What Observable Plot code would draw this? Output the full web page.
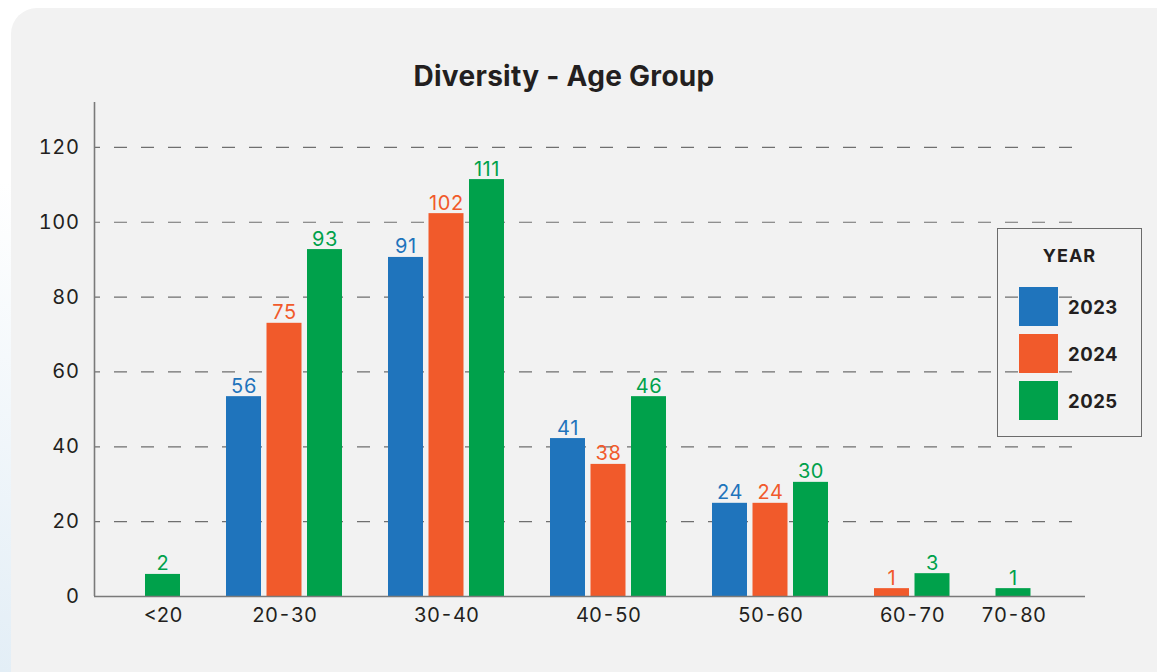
<!DOCTYPE html>
<html>
<head>
<meta charset="utf-8">
<script src="https://cdn.jsdelivr.net/npm/d3@7"></script>
<script src="https://cdn.jsdelivr.net/npm/@observablehq/plot@0.6"></script>
<style>
  html, body { margin: 0; padding: 0; }
  body {
    width: 1157px; height: 672px; overflow: hidden; position: relative;
    background: linear-gradient(200deg, #ffffff 55%, #e3eef6 100%);
    font-family: Inter, "Open Sans", sans-serif; color: #231f20;
  }
  #panel {
    position: absolute; left: 11px; top: 8px; width: 1180px; height: 700px;
    background: #f2f2f2; border-radius: 26px;
  }
  #chart { position: absolute; left: 0; top: 0; }
  #chart svg text { letter-spacing: 0.6px; }
  #chart svg g[aria-label="x-axis tick label"] text { letter-spacing: 0px; }
  #title {
    position: absolute; left: 0; top: 61px; width: 1128px; text-align: center;
    font-size: 28px; line-height: 30px; font-weight: 700; color: #231f20; letter-spacing: 0.3px;
  }
  #legend {
    position: absolute; left: 997px; top: 228px; width: 143px; height: 207px;
    border: 1.5px solid #6b6b6b; box-sizing: content-box;
  }
  #legend .head {
    position: absolute; left: 0; width: 100%; top: 17px; text-align: center;
    font-size: 18px; font-weight: 700; line-height: 20px; letter-spacing: 1px;
  }
  #legend .item { position: absolute; left: 21px; height: 39px; display: flex; align-items: center; }
  #legend .sw { width: 39px; height: 39px; }
  #legend .lab { margin-left: 10px; font-size: 18.5px; font-weight: 700; letter-spacing: 0.5px; }
</style>
</head>
<body>
<div id="panel"></div>
<div id="chart"></div>
<div id="title">Diversity - Age Group</div>
<div id="legend"></div>
<script>
// ---- data ----
const categories = ["<20", "20-30", "30-40", "40-50", "50-60", "60-70", "70-80"];
const years = ["2023", "2024", "2025"];
const colors = ["#1f74bc", "#f15a2b", "#00a14b"];
// bar heights as drawn
const values2023 = [0, 53.4, 90.6, 42.2, 24.9, 0, 0];
const values2024 = [0, 73, 102.3, 35.3, 24.9, 2.1, 0];
const values2025 = [5.9, 92.7, 111.4, 53.4, 30.5, 6.1, 2.1];
// value labels as printed
const labels2023 = [null, "56", "91", "41", "24", null, null];
const labels2024 = [null, "75", "102", "38", "24", "1", null];
const labels2025 = ["2", "93", "111", "46", "30", "3", "1"];
const yTicks = [0, 20, 40, 60, 80, 100, 120];

// ---- build table: one slot per present bar, one empty slot between groups ----
const seriesValues = [values2023, values2024, values2025];
const seriesLabels = [labels2023, labels2024, labels2025];
const rows = [];
const groupCenters = [];
let slot = 0;
const barW = 0.864;
categories.forEach((cat, i) => {
  const first = slot;
  years.forEach((yr, j) => {
    const v = seriesValues[j][i];
    if (v > 0) {
      rows.push({cat, year: yr, value: v, label: seriesLabels[j][i], slot});
      slot += 1;
    }
  });
  groupCenters.push({cat, center: (first + slot - 1 + barW) / 2});
  slot += 1;
});

const xMin = -51 / 40.5, xMax = 940 / 40.5;

const chart = Plot.plot({
  width: 1157,
  height: 672,
  marginLeft: 94,
  marginRight: 72,
  marginTop: 102,
  marginBottom: 76,
  style: {background: "transparent", fontFamily: "Inter, 'Open Sans', sans-serif", fontSize: "20px", color: "#231f20"},
  x: {domain: [xMin, xMax], axis: null},
  y: {domain: [0, 132], axis: null},
  color: {domain: years, range: colors},
  marks: [
    Plot.gridY(yTicks.filter(t => t > 0), {stroke: "#6f6f6f", strokeOpacity: 1, strokeWidth: 1.2, strokeDasharray: "13,14", strokeDashoffset: 7}),
    Plot.rect(rows, {x1: "slot", x2: d => d.slot + barW, y1: 0, y2: "value", fill: "year"}),
    Plot.text(rows, {x: d => d.slot + barW / 2, y: "value", text: "label", fill: "year", lineAnchor: "bottom", dy: -4, fontSize: 20}),
    Plot.ruleY([0], {stroke: "#7a7a7a", strokeWidth: 1.6}),
    Plot.ruleX([xMin], {y1: 0, y2: 132, stroke: "#7a7a7a", strokeWidth: 1.6}),
    Plot.axisY({ticks: yTicks, tickSize: 0, tickPadding: 15, label: null, fontSize: 20}),
    Plot.axisX({ticks: groupCenters.map(g => g.center), tickFormat: (d, i) => groupCenters[i].cat, tickSize: 0, tickPadding: 11, label: null, fontSize: 20})
  ]
});
document.getElementById("chart").appendChild(chart);

// ---- legend ----
const legend = document.getElementById("legend");
const head = document.createElement("div");
head.className = "head"; head.textContent = "YEAR";
legend.appendChild(head);
years.forEach((yr, j) => {
  const it = document.createElement("div");
  it.className = "item";
  it.style.top = (58 + j * 47) + "px";
  const sw = document.createElement("div");
  sw.className = "sw"; sw.style.background = colors[j];
  const lab = document.createElement("div");
  lab.className = "lab"; lab.textContent = yr;
  it.appendChild(sw); it.appendChild(lab);
  legend.appendChild(it);
});
</script>
</body>
</html>
